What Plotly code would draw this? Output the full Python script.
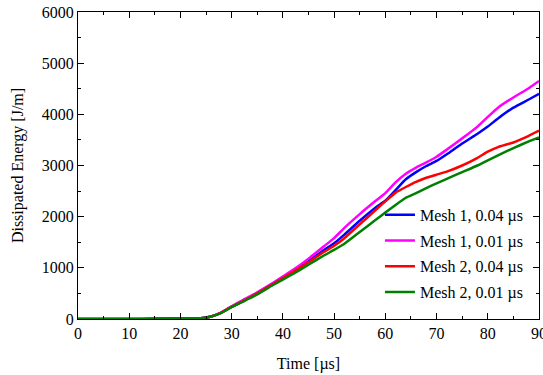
import plotly.graph_objects as go

# Time samples [µs]
time_us = [0, 10, 15, 20, 24, 26, 28, 30, 32, 35, 38, 40, 42, 45, 48, 50, 52, 55,
           58, 60, 62, 64, 66, 68, 70, 72, 75, 78, 80, 82, 85, 88, 90]

# Dissipated energy [J/m] for each mesh / time step
mesh1_004 = [0, 0, 5, 10, 15, 50, 125, 240, 340, 510, 690, 810, 930, 1130, 1350,
             1480, 1650, 1920, 2170, 2310, 2520, 2730, 2870, 2990, 3090, 3220,
             3430, 3620, 3760, 3920, 4130, 4290, 4400]
mesh1_001 = [0, 0, 5, 10, 15, 50, 130, 250, 360, 520, 700, 830, 960, 1180, 1420,
             1580, 1780, 2050, 2300, 2460, 2670, 2840, 2960, 3060, 3170, 3310,
             3530, 3760, 3950, 4130, 4330, 4510, 4650]
mesh2_004 = [0, 0, 5, 10, 15, 50, 125, 240, 340, 500, 680, 800, 920, 1110, 1310,
             1430, 1580, 1850, 2120, 2300, 2470, 2580, 2680, 2760, 2820, 2880,
             3000, 3150, 3270, 3360, 3450, 3580, 3680]
mesh2_001 = [0, 0, 5, 10, 15, 50, 120, 230, 330, 480, 660, 770, 880, 1060, 1240,
             1350, 1470, 1700, 1930, 2080, 2230, 2370, 2460, 2560, 2650, 2740,
             2870, 3000, 3100, 3200, 3340, 3470, 3550]

series = [
    ("Mesh 1, 0.04 µs", mesh1_004, "#0000ff"),
    ("Mesh 1, 0.01 µs", mesh1_001, "#ff00ff"),
    ("Mesh 2, 0.04 µs", mesh2_004, "#ff0000"),
    ("Mesh 2, 0.01 µs", mesh2_001, "#008000"),
]

FONT = "Liberation Serif, Times New Roman, serif"

fig = go.Figure()
for i, (name, vals, color) in enumerate(series):
    fig.add_trace(go.Scatter(
        x=time_us, y=vals, mode="lines", name=name,
        line=dict(color=color, width=2.5, shape="spline", smoothing=0.4),
        legendgroup=f"g{i}",
    ))

axis_common = dict(
    showgrid=False, zeroline=False, showline=True, linecolor="black",
    linewidth=1, mirror="ticks", ticks="inside", ticklen=6, tickcolor="black",
    ticklabeloverflow="allow", automargin=False,
    tickfont=dict(family=FONT, size=16, color="black"),
)

fig.update_xaxes(
    range=[0, 90], dtick=10, tick0=0,
    title=dict(text="Time [µs]", font=dict(family=FONT, size=16, color="black"),
               standoff=16),
    minor=dict(ticks="inside", dtick=5, ticklen=3, tickcolor="black"),
    **axis_common,
)
fig.update_yaxes(
    range=[0, 6000], dtick=1000, tick0=0,
    title=dict(text="Dissipated Energy [J/m]",
               font=dict(family=FONT, size=16, color="black"), standoff=14),
    minor=dict(ticks="inside", dtick=500, ticklen=3, tickcolor="black"),
    **axis_common,
)

fig.update_layout(
    width=543, height=375,
    margin=dict(l=78, r=4, t=12, b=56),
    paper_bgcolor="white", plot_bgcolor="white",
    showlegend=True,
    legend=dict(
        x=0.655, y=0.395, xanchor="left", yanchor="top",
        bgcolor="rgba(0,0,0,0)", borderwidth=0,
        font=dict(family=FONT, size=16, color="black"),
        tracegroupgap=2, traceorder="grouped",
    ),
)

fig.write_html("out.html")
